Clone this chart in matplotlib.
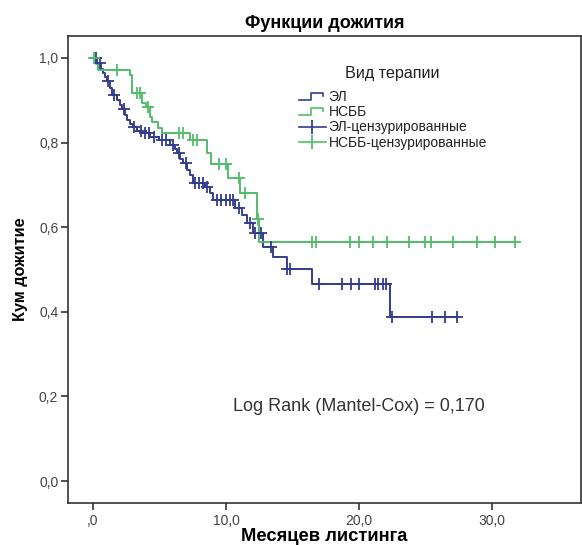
import matplotlib
matplotlib.use("Agg")
import matplotlib.pyplot as plt
import numpy as np
from matplotlib.lines import Line2D
from matplotlib.legend_handler import HandlerBase
from matplotlib.ticker import FuncFormatter

plt.rcParams['font.family'] = ['Liberation Sans', 'DejaVu Sans']

# ---- data (months, cumulative survival) ----
el_times = [0.0, 0.3, 0.6, 0.75, 0.9, 1.05, 1.3, 1.45, 1.8, 2.0, 2.2, 2.4, 2.55, 2.8, 3.0,
            3.3, 3.7, 4.3, 5.0, 5.8, 6.2, 6.3, 6.55, 6.8, 7.05, 7.3, 7.5, 8.4, 8.8, 9.0,
            10.7, 11.2, 11.6, 12.0, 12.8, 13.5, 14.6, 16.5, 22.3]
el_surv = [1.0, 0.988, 0.975, 0.965, 0.955, 0.945, 0.93, 0.912, 0.90, 0.89, 0.88, 0.865, 0.853,
           0.845, 0.837, 0.828, 0.823, 0.813, 0.806, 0.794, 0.784, 0.775, 0.762, 0.752, 0.735,
           0.723, 0.704, 0.695, 0.68, 0.664, 0.645, 0.629, 0.61, 0.586, 0.553, 0.53, 0.501,
           0.466, 0.388]
el_end = 27.4
el_cens = [0.2, 0.5, 1.1, 1.6, 2.3, 3.1, 3.6, 3.9, 4.2, 4.6, 5.2, 5.5, 6.0, 6.5, 7.0, 7.7,
           8.0, 8.3, 8.6, 9.3, 9.6, 10.0, 10.3, 10.5, 11.0, 11.8, 12.2, 12.6, 13.4, 14.6,
           14.8, 17.0, 18.7, 19.4, 20.0, 21.2, 21.4, 21.8, 22.0, 22.5, 25.5, 26.5, 27.4]

nsbb_times = [0.0, 0.2, 0.4, 2.8, 2.95, 3.7, 4.0, 4.3, 4.4, 4.9, 5.2, 7.3, 8.6, 8.9, 10.15,
              11.05, 12.3, 12.5]
nsbb_surv = [1.0, 0.985, 0.972, 0.96, 0.917, 0.894, 0.884, 0.86, 0.849, 0.835, 0.823, 0.806,
             0.775, 0.75, 0.716, 0.68, 0.62, 0.565]
nsbb_end = 31.7
nsbb_cens = [0.1, 1.8, 3.3, 3.5, 4.1, 6.5, 6.8, 7.5, 7.8, 9.5, 10.0, 11.0, 11.4, 12.4, 16.5,
             16.8, 19.3, 20.0, 21.05, 22.1, 23.8, 25.0, 25.4, 27.1, 28.9, 30.2, 31.7]

labels = ['ЭЛ', 'НСББ', 'ЭЛ-цензурированные', 'НСББ-цензурированные']
legend_title = 'Вид терапии'
x_ticks = [0, 10, 20, 30]
y_ticks = [0.0, 0.2, 0.4, 0.6, 0.8, 1.0]
stat_text = 'Log Rank (Mantel-Cox) = 0,170'

c_el = '#343c8e'
c_nsbb = '#52bd6a'

fig = plt.figure(figsize=(5.82, 5.45), dpi=100)
ax = fig.add_axes([68/582, 42/545, 513/582, 467/545])


def surv_at(times, surv, t):
    idx = np.searchsorted(times, t, side='right') - 1
    return np.asarray(surv)[idx]


for times, surv, end, cens, col in [(el_times, el_surv, el_end, el_cens, c_el),
                                     (nsbb_times, nsbb_surv, nsbb_end, nsbb_cens, c_nsbb)]:
    tx = list(times) + [end]
    sy = list(surv) + [surv[-1]]
    ax.step(tx, sy, where='post', color=col, lw=1.4, zorder=3)
    ax.plot(cens, surv_at(times, surv, cens), linestyle='none', marker='+',
            markersize=8, mew=1.3, color=col, zorder=4)

ax.set_xlim(-1.88, 36.7)
ax.set_ylim(-0.052, 1.052)
ax.set_xticks(x_ticks)
ax.set_yticks(y_ticks)

ax.xaxis.set_major_formatter(FuncFormatter(lambda v, p: ',0' if v == 0 else f'{v:.1f}'.replace('.', ',')))
ax.yaxis.set_major_formatter(FuncFormatter(lambda v, p: f'{v:.1f}'.replace('.', ',')))
ax.tick_params(axis='both', direction='out', length=5, width=1.2, color='#333333',
               labelsize=10, labelcolor='#444444')
ax.tick_params(axis='y', pad=2)
ax.tick_params(axis='x', pad=3)
for sp in ax.spines.values():
    sp.set_linewidth(1.2)
    sp.set_color('#333333')

ax.set_title('Функции дожития', fontsize=13, fontweight='bold', pad=6)
ax.set_xlabel('Месяцев листинга', fontsize=13.2, fontweight='bold', labelpad=0)
ax.set_ylabel('Кум дожитие', fontsize=11.7, fontweight='bold', labelpad=8)

ax.text(10.5, 0.175, stat_text, fontsize=13, color='#333333', va='center', ha='left')


class StepHandler(HandlerBase):
    def create_artists(self, legend, orig_handle, xdescent, ydescent, width, height,
                       fontsize, trans):
        x0 = -xdescent
        y0 = -ydescent
        xs = [x0, x0 + width * 0.45, x0 + width * 0.45, x0 + width * 0.9, x0 + width * 0.9]
        ys = [y0 + height * 0.1, y0 + height * 0.1, y0 + height * 0.8, y0 + height * 0.8,
              y0 + height * 0.5]
        ln = Line2D(xs, ys, color=orig_handle.get_color(), lw=1.2, transform=trans)
        return [ln]


h1 = Line2D([], [], color=c_el)
h2 = Line2D([], [], color=c_nsbb)
h3 = Line2D([], [], color=c_el, marker='|', markersize=10, mew=1.3, lw=1.2)
h4 = Line2D([], [], color=c_nsbb, marker='|', markersize=10, mew=1.3, lw=1.2)
leg = ax.legend([h1, h2, h3, h4], labels, frameon=False,
                loc='upper left', bbox_to_anchor=(0.44, 0.897), fontsize=10,
                handlelength=1.9, handletextpad=0.2, labelspacing=0.1,
                borderaxespad=0, handler_map={h1: StepHandler(), h2: StepHandler()})
for t in leg.get_texts():
    t.set_color('#222222')
ax.text(0.632, 0.92, legend_title, transform=ax.transAxes, fontsize=11.6,
        color='#222222', ha='center', va='center')

fig.savefig('out.png', dpi=100)
